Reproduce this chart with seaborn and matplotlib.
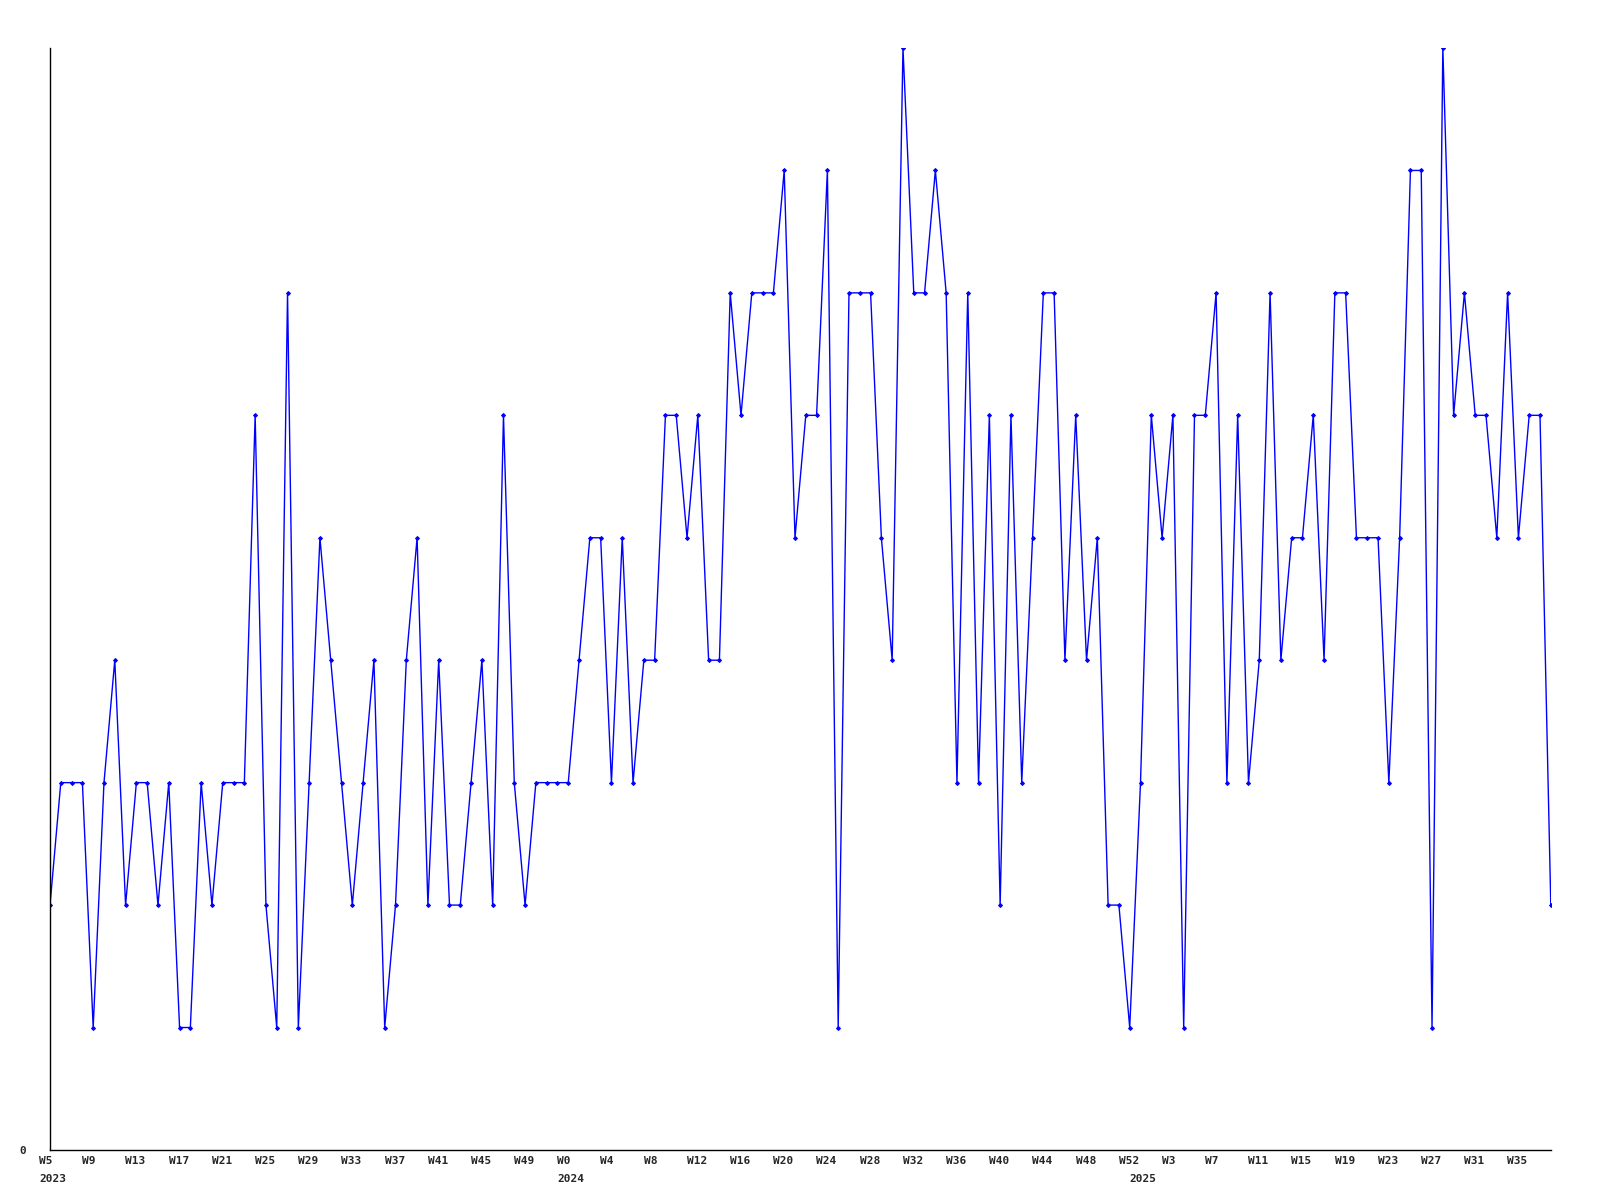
import numpy as np
import pandas as pd
import matplotlib
matplotlib.use("Agg")
import matplotlib.pyplot as plt
import matplotlib.transforms as mtransforms
import seaborn as sns

# weekly counts
vals_2023 = [2, 3, 3, 3, 1, 3, 4, 2, 3, 3, 2, 3, 1, 1, 3, 2, 3, 3, 3, 6,
             2, 1, 7, 1, 3, 5, 4, 3, 2, 3, 4, 1, 2, 4, 5, 2, 4, 2, 2, 3,
             4, 2, 6, 3, 2, 3, 3, 3]                      # W5..W52
vals_2024 = [3, 4, 5, 5, 3, 5, 3, 4, 4, 6, 6, 5, 6, 4, 4, 7, 6, 7, 7, 7,
             8, 5, 6, 6, 8, 1, 7, 7, 7, 5, 4, 9, 7, 7, 8, 7, 3, 7, 3, 6,
             2, 6, 3, 5, 7, 7, 4, 6, 4, 5, 2, 2, 1]       # W0..W52
vals_2025 = [3, 6, 5, 6, 1, 6, 6, 7, 3, 6, 3, 4, 7, 4, 5, 5, 6, 4, 7, 7,
             5, 5, 5, 3, 5, 8, 8, 1, 9, 6, 7, 6, 6, 5, 7, 5, 6, 6, 2]  # W0..W38

weeks = ([(2023, w) for w in range(5, 53)] +
         [(2024, w) for w in range(0, 53)] +
         [(2025, w) for w in range(0, 39)])
values = vals_2023 + vals_2024 + vals_2025

df = pd.DataFrame({"idx": np.arange(len(values)), "count": values,
                   "year": [y for y, w in weeks], "week": [w for y, w in weeks]})

sns.set_style("white")
plt.rcParams["font.family"] = ["DejaVu Sans Mono"]
plt.rcParams["font.weight"] = "bold"

fig = plt.figure(figsize=(16, 12), dpi=100)
ax = fig.add_axes([0.03125, 0.0417, 0.938, 0.9183])

sns.lineplot(data=df, x="idx", y="count", ax=ax, color="#0000ff",
             linewidth=1, marker="D", markersize=2,
             markeredgecolor="#0000ff", markerfacecolor="#0000ff")

ax.set_xlim(0, len(values) - 1)
ax.set_ylim(0, 9)

# week labels every 4th point
major = df.idx[::4]
ax.set_xticks(major)
ax.set_xticklabels(["W%d" % w for w in df.week[::4]], fontsize=8, fontweight="bold", ha="left")

# year labels at the first week of each year
first = df.groupby("year").idx.min()
ax.xaxis.remove_overlapping_locs = False
ax.set_xticks(first.values, minor=True)
ax.set_xticklabels([str(y) for y in first.index], minor=True, fontsize=8,
                   fontweight="bold", ha="left")

ax.tick_params(axis="x", which="major", length=0, pad=4)
ax.tick_params(axis="x", which="minor", length=0, pad=17)
shift = mtransforms.ScaledTranslation(-11 / 100, 0, fig.dpi_scale_trans)
for lab in ax.get_xticklabels(which="both"):
    lab.set_transform(lab.get_transform() + shift)

ax.set_yticks([0])
ax.set_yticklabels(["0"], fontsize=8, fontweight="bold")
ax.tick_params(axis="y", length=0, pad=17)

ax.set_xlabel("")
ax.set_ylabel("")
for s in ["top", "right"]:
    ax.spines[s].set_visible(False)
for s in ["left", "bottom"]:
    ax.spines[s].set_color("black")
    ax.spines[s].set_linewidth(1)

fig.savefig("out.png", dpi=100, facecolor="white")
